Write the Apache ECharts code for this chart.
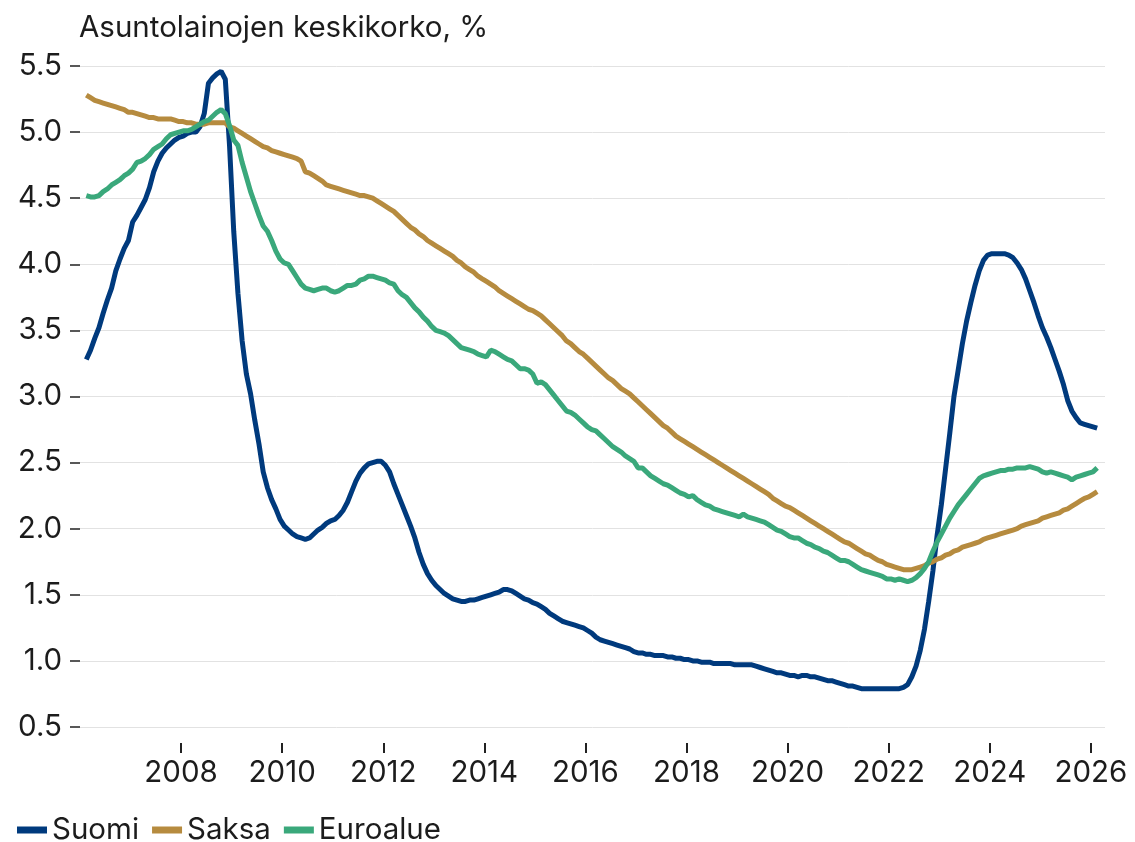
<!DOCTYPE html>
<html>
<head>
<meta charset="utf-8">
<script src="https://cdn.jsdelivr.net/npm/echarts@6/dist/echarts.min.js"></script>
<style>
  html, body { margin: 0; padding: 0; background: #fff; }
  #chart { width: 1135px; height: 842px; }
</style>
</head>
<body>
<div id="chart"></div>
<script>
// monthly observations, Feb 2006 .. Feb 2026
const firstYear = 2006
const firstMonth = 1 // February (0-based)

const suomi = [
  3.28, 3.35, 3.44, 3.52, 3.63, 3.73, 3.82, 3.95, 4.04, 4.12, 4.18,
  4.32, 4.37, 4.43, 4.49, 4.58, 4.70, 4.78, 4.84, 4.88, 4.91, 4.94, 4.96,
  4.97, 4.99, 5.00, 5.00, 5.04, 5.14, 5.37, 5.41, 5.44, 5.46, 5.40, 4.90,
  4.25, 3.78, 3.42, 3.17, 3.02, 2.82, 2.64, 2.43, 2.31, 2.22, 2.15, 2.07,
  2.02, 1.99, 1.96, 1.94, 1.93, 1.92, 1.93, 1.96, 1.99, 2.01, 2.04, 2.06,
  2.07, 2.10, 2.14, 2.20, 2.28, 2.36, 2.42, 2.46, 2.49, 2.50, 2.51, 2.51,
  2.48, 2.43, 2.34, 2.26, 2.18, 2.10, 2.02, 1.93, 1.82, 1.73, 1.66, 1.61,
  1.57, 1.54, 1.51, 1.49, 1.47, 1.46, 1.45, 1.45, 1.46, 1.46, 1.47, 1.48,
  1.49, 1.50, 1.51, 1.52, 1.54, 1.54, 1.53, 1.51, 1.49, 1.47, 1.46, 1.44,
  1.43, 1.41, 1.39, 1.36, 1.34, 1.32, 1.30, 1.29, 1.28, 1.27, 1.26, 1.25,
  1.23, 1.21, 1.18, 1.16, 1.15, 1.14, 1.13, 1.12, 1.11, 1.10, 1.09, 1.07,
  1.06, 1.06, 1.05, 1.05, 1.04, 1.04, 1.04, 1.03, 1.03, 1.02, 1.02, 1.01,
  1.01, 1.00, 1.00, 0.99, 0.99, 0.99, 0.98, 0.98, 0.98, 0.98, 0.98, 0.97,
  0.97, 0.97, 0.97, 0.97, 0.96, 0.95, 0.94, 0.93, 0.92, 0.91, 0.91, 0.90,
  0.89, 0.89, 0.88, 0.89, 0.89, 0.88, 0.88, 0.87, 0.86, 0.85, 0.85, 0.84,
  0.83, 0.82, 0.81, 0.81, 0.80, 0.79, 0.79, 0.79, 0.79, 0.79, 0.79, 0.79,
  0.79, 0.79, 0.79, 0.80, 0.82, 0.88, 0.96, 1.08, 1.24, 1.45, 1.68, 1.95,
  2.18, 2.45, 2.72, 3.00, 3.20, 3.40, 3.57, 3.71, 3.84, 3.95, 4.03, 4.07,
  4.08, 4.08, 4.08, 4.08, 4.07, 4.05, 4.01, 3.96, 3.89, 3.80, 3.71, 3.61,
  3.52, 3.45, 3.37, 3.28, 3.19, 3.09, 2.97, 2.89, 2.84, 2.80, 2.79, 2.78,
  2.77, 2.76
]

const saksa = [
  5.28, 5.26, 5.24, 5.23, 5.22, 5.21, 5.20, 5.19, 5.18, 5.17, 5.15,
  5.15, 5.14, 5.13, 5.12, 5.11, 5.11, 5.10, 5.10, 5.10, 5.10, 5.09, 5.08,
  5.08, 5.07, 5.07, 5.06, 5.06, 5.06, 5.07, 5.07, 5.07, 5.07, 5.07, 5.04,
  5.03, 5.01, 4.99, 4.97, 4.95, 4.93, 4.91, 4.89, 4.88, 4.86, 4.85, 4.84,
  4.83, 4.82, 4.81, 4.80, 4.78, 4.70, 4.69, 4.67, 4.65, 4.63, 4.60, 4.59,
  4.58, 4.57, 4.56, 4.55, 4.54, 4.53, 4.52, 4.52, 4.51, 4.50, 4.48, 4.46,
  4.44, 4.42, 4.40, 4.37, 4.34, 4.31, 4.28, 4.26, 4.23, 4.21, 4.18, 4.16,
  4.14, 4.12, 4.10, 4.08, 4.06, 4.03, 4.01, 3.98, 3.96, 3.94, 3.91, 3.89,
  3.87, 3.85, 3.83, 3.80, 3.78, 3.76, 3.74, 3.72, 3.70, 3.68, 3.66, 3.65,
  3.63, 3.61, 3.58, 3.55, 3.52, 3.49, 3.46, 3.42, 3.40, 3.37, 3.34, 3.32,
  3.29, 3.26, 3.23, 3.20, 3.17, 3.14, 3.12, 3.09, 3.06, 3.04, 3.02, 2.99,
  2.96, 2.93, 2.90, 2.87, 2.84, 2.81, 2.78, 2.76, 2.73, 2.70, 2.68, 2.66,
  2.64, 2.62, 2.60, 2.58, 2.56, 2.54, 2.52, 2.50, 2.48, 2.46, 2.44, 2.42,
  2.40, 2.38, 2.36, 2.34, 2.32, 2.30, 2.28, 2.26, 2.23, 2.21, 2.19, 2.17,
  2.16, 2.14, 2.12, 2.10, 2.08, 2.06, 2.04, 2.02, 2.00, 1.98, 1.96, 1.94,
  1.92, 1.90, 1.89, 1.87, 1.85, 1.83, 1.81, 1.80, 1.78, 1.76, 1.75, 1.73,
  1.72, 1.71, 1.70, 1.69, 1.69, 1.69, 1.70, 1.71, 1.72, 1.74, 1.75, 1.77,
  1.78, 1.80, 1.81, 1.83, 1.84, 1.86, 1.87, 1.88, 1.89, 1.90, 1.92, 1.93,
  1.94, 1.95, 1.96, 1.97, 1.98, 1.99, 2.00, 2.02, 2.03, 2.04, 2.05, 2.06,
  2.08, 2.09, 2.10, 2.11, 2.12, 2.14, 2.15, 2.17, 2.19, 2.21, 2.23, 2.24,
  2.26, 2.28
]

const euroalue = [
  4.52, 4.51, 4.51, 4.52, 4.55, 4.57, 4.60, 4.62, 4.64, 4.67, 4.69,
  4.72, 4.77, 4.78, 4.80, 4.83, 4.87, 4.89, 4.91, 4.95, 4.98, 4.99, 5.00,
  5.01, 5.01, 5.02, 5.04, 5.06, 5.08, 5.09, 5.12, 5.15, 5.17, 5.14, 5.05,
  4.94, 4.90, 4.77, 4.66, 4.55, 4.46, 4.37, 4.29, 4.25, 4.18, 4.10, 4.04,
  4.01, 4.00, 3.95, 3.90, 3.85, 3.82, 3.81, 3.80, 3.81, 3.82, 3.82, 3.80,
  3.79, 3.80, 3.82, 3.84, 3.84, 3.85, 3.88, 3.89, 3.91, 3.91, 3.90, 3.89,
  3.88, 3.86, 3.85, 3.80, 3.77, 3.75, 3.71, 3.67, 3.64, 3.60, 3.57, 3.53,
  3.50, 3.49, 3.48, 3.46, 3.43, 3.40, 3.37, 3.36, 3.35, 3.34, 3.32, 3.31,
  3.30, 3.35, 3.34, 3.32, 3.30, 3.28, 3.27, 3.24, 3.21, 3.21, 3.20, 3.17,
  3.10, 3.11, 3.09, 3.05, 3.01, 2.97, 2.93, 2.89, 2.88, 2.86, 2.83, 2.80,
  2.77, 2.75, 2.74, 2.71, 2.68, 2.65, 2.62, 2.60, 2.58, 2.55, 2.53, 2.51,
  2.46, 2.46, 2.43, 2.40, 2.38, 2.36, 2.34, 2.33, 2.31, 2.29, 2.27, 2.26,
  2.24, 2.25, 2.22, 2.20, 2.18, 2.17, 2.15, 2.14, 2.13, 2.12, 2.11, 2.10,
  2.09, 2.11, 2.09, 2.08, 2.07, 2.06, 2.05, 2.03, 2.01, 1.99, 1.98, 1.96,
  1.94, 1.93, 1.93, 1.91, 1.89, 1.88, 1.86, 1.85, 1.83, 1.82, 1.80, 1.78,
  1.76, 1.76, 1.75, 1.73, 1.71, 1.69, 1.68, 1.67, 1.66, 1.65, 1.64, 1.62,
  1.62, 1.61, 1.62, 1.61, 1.60, 1.61, 1.63, 1.66, 1.70, 1.75, 1.83, 1.90,
  1.96, 2.02, 2.08, 2.13, 2.18, 2.22, 2.26, 2.30, 2.34, 2.38, 2.40, 2.41,
  2.42, 2.43, 2.44, 2.44, 2.45, 2.45, 2.46, 2.46, 2.46, 2.47, 2.46, 2.45,
  2.43, 2.42, 2.43, 2.42, 2.41, 2.40, 2.39, 2.37, 2.39, 2.40, 2.41, 2.42,
  2.43, 2.46
]

const tickYears = [2008, 2010, 2012, 2014, 2016, 2018, 2020, 2022, 2024, 2026]
const seriesNames = ['Suomi', 'Saksa', 'Euroalue']
const colors = ['#003a7d', '#b68b3f', '#3aa87b']

const FONT = 'Inter, "Noto Sans", sans-serif'
const FONT_SIZE = 29.5
const TEXT = '#1c1c1c'

// x as decimal year, each month placed at its middle
const months = suomi.map((_, i) => firstYear + (firstMonth + i + 0.5) / 12)
const pairs = values => values.map((v, i) => [months[i], v])

const chart = echarts.init(document.getElementById('chart'))

chart.setOption({
  animation: false,
  color: colors,
  textStyle: { fontFamily: FONT },
  title: {
    text: 'Asuntolainojen keskikorko, %',
    left: 79,
    top: 13,
    padding: 0,
    textStyle: { fontFamily: FONT, fontSize: FONT_SIZE, fontWeight: 'normal', color: TEXT }
  },
  legend: {
    left: 17,
    top: 815,
    padding: 0,
    icon: 'rect',
    itemWidth: 30,
    itemHeight: 7,
    itemGap: 13,
    textStyle: { fontFamily: FONT, fontSize: FONT_SIZE, color: TEXT },
    data: seriesNames
  },
  grid: { left: 80, right: 30, top: 66, bottom: 115 },
  xAxis: {
    type: 'value',
    min: 2006,
    max: 2026.28,
    offset: 16,
    axisLine: { show: false },
    axisTick: {
      show: true,
      length: 10,
      customValues: tickYears,
      lineStyle: { color: '#222', width: 2 }
    },
    axisLabel: {
      customValues: tickYears,
      margin: 15,
      fontFamily: FONT,
      fontSize: FONT_SIZE,
      color: TEXT,
      formatter: v => String(v)
    },
    splitLine: { show: false }
  },
  yAxis: {
    type: 'value',
    min: 0.5,
    max: 5.5,
    interval: 0.5,
    axisLine: { show: false },
    axisTick: { show: true, length: 10, lineStyle: { color: '#222', width: 1.5 } },
    axisLabel: {
      margin: 18,
      fontFamily: FONT,
      fontSize: FONT_SIZE,
      color: TEXT,
      formatter: v => v.toFixed(1)
    },
    splitLine: { lineStyle: { color: '#e2e2e2', width: 1 } }
  },
  series: [
    { name: seriesNames[0], type: 'line', data: pairs(suomi), showSymbol: false, lineStyle: { width: 5 } },
    { name: seriesNames[1], type: 'line', data: pairs(saksa), showSymbol: false, lineStyle: { width: 5 } },
    { name: seriesNames[2], type: 'line', data: pairs(euroalue), showSymbol: false, lineStyle: { width: 5 } }
  ]
})
</script>
</body>
</html>
